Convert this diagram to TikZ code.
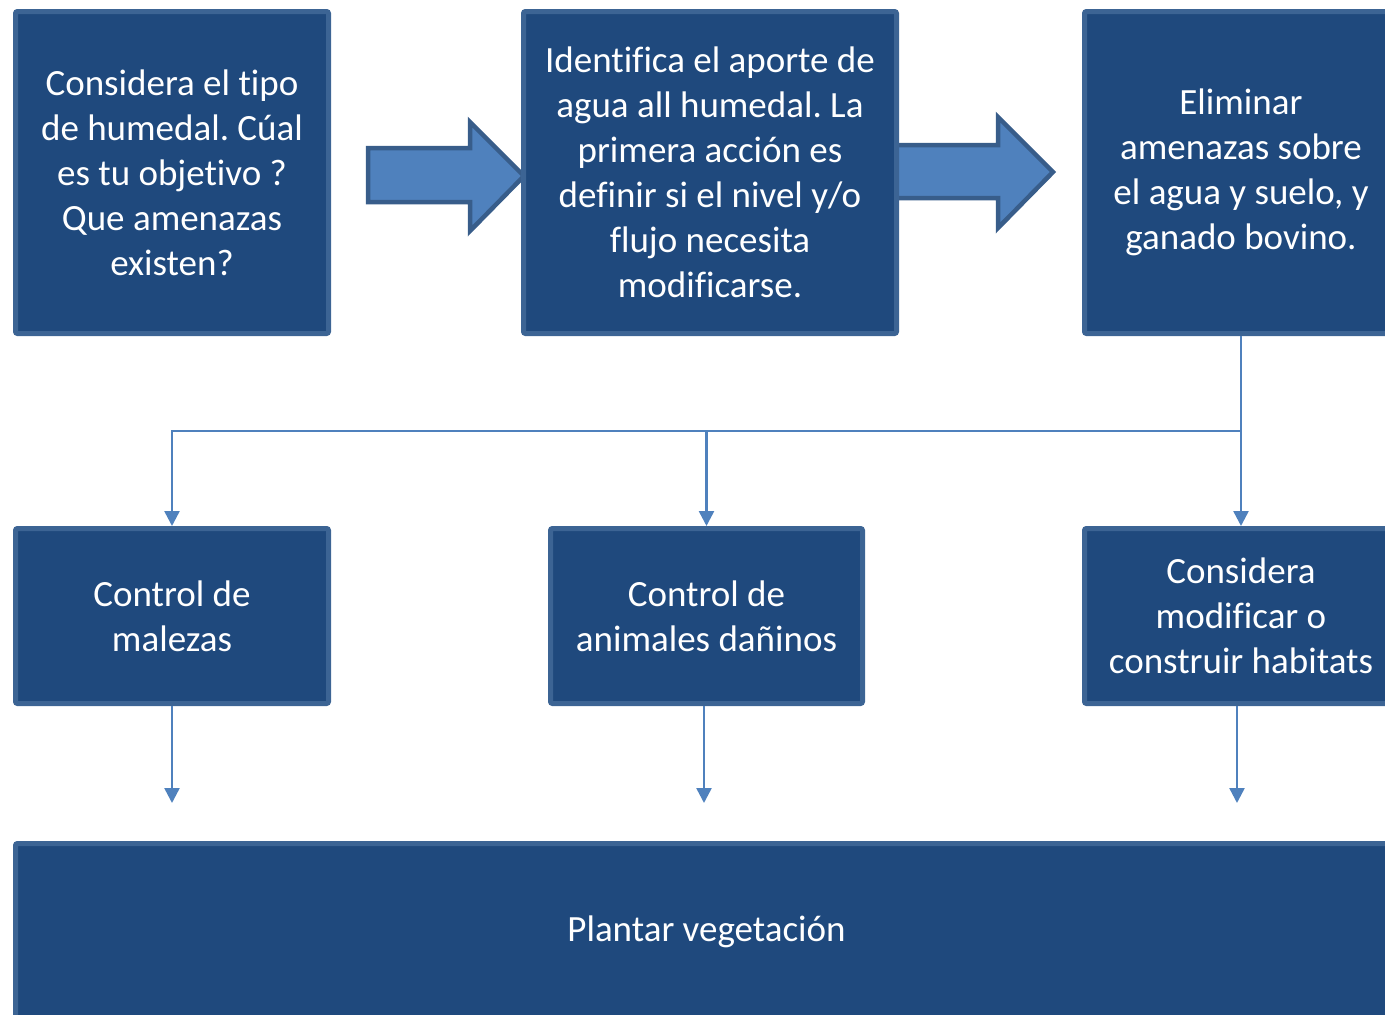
\documentclass[tikz,border=0pt]{standalone}
\usepackage{fontspec}
\setmainfont{Carlito}[Ligatures=NoCommon]
\frenchspacing
\usetikzlibrary{arrows.meta}
\definecolor{boxfill}{HTML}{1F497D}
\definecolor{boxline}{HTML}{3C6494}
\definecolor{arrowfill}{HTML}{4F81BD}
\definecolor{arrowline}{HTML}{385D8A}
\begin{document}
\begin{tikzpicture}[x=1pt,y=-1pt,
box/.style={draw=boxline,fill=boxfill,line width=5pt,rounded corners=2pt,
  text=white,align=center,inner sep=0pt,font=\fontsize{37}{45}\selectfont},
bigarrow/.style={draw=arrowline,fill=arrowfill,line width=4.5pt,line join=miter},
link/.style={draw=arrowfill,line width=2.5pt,-{Triangle[width=15pt,length=15pt]}}
]
\clip (0,0) rectangle (1385,1015);
% block arrows between the top boxes
\draw[bigarrow] (368,148) -- (470,148) -- (470,122) -- (524,176) -- (470,231) -- (470,202) -- (368,202) -- cycle;
\draw[bigarrow] (880,145) -- (998,145) -- (998,117) -- (1053,172) -- (998,228) -- (998,198) -- (880,198) -- cycle;
% top row
\node[box,minimum width=313,minimum height=322] (tipo) at (172,172.5)
  {Considera el tipo\\de humedal. Cúal\\es tu objetivo ?\\Que amenazas\\existen?};
\node[box,minimum width=373,minimum height=322] (agua) at (710,172.5)
  {Identifica el aporte de\\agua all humedal. La\\primera acción es\\definir si el nivel y/o\\flujo necesita\\modificarse.};
\node[box,minimum width=313,minimum height=322] (amenazas) at (1241,172.5)
  {Eliminar\\amenazas sobre\\el agua y suelo, y\\ganado bovino.};
% middle row
\node[box,minimum width=313,minimum height=175] (malezas) at (172,616)
  {Control de\\malezas};
\node[box,minimum width=312,minimum height=175] (animales) at (706.5,616)
  {Control de\\animales dañinos};
\node[box,minimum width=313,minimum height=175] (habitats) at (1241,616)
  {Considera\\modificar o\\construir habitats};
% bottom
\node[box,minimum width=1382,minimum height=177] (plantar) at (706.5,932)
  {Plantar vegetación};
% connectors
\coordinate (fork) at (1241,431);
\draw[link] (amenazas.south) -- (habitats.north);
\draw[link] (fork) -| (malezas.north);
\draw[link] (fork -| animales.north) -- (animales.north);
\draw[link] (malezas.south) -- ++(0,97);
\draw[link] ([xshift=-2.5]animales.south) -- ++(0,97);
\draw[link] ([xshift=-4]habitats.south) -- ++(0,97);
\end{tikzpicture}
\end{document}
